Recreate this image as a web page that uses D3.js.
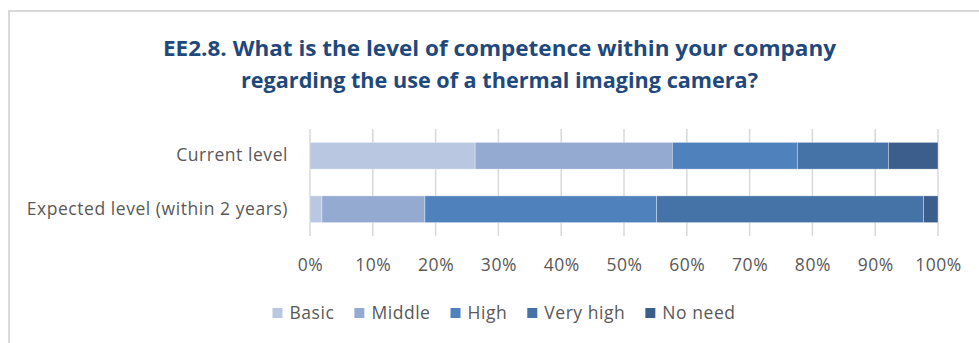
<!DOCTYPE html>
<html><head><meta charset="utf-8">
<script src="https://cdn.jsdelivr.net/npm/d3@7"></script>
<style>
html,body{margin:0;padding:0;background:#fff;}
svg{display:block;}
</style></head>
<body>
<script>
const categories = ["Current level", "Expected level (within 2 years)"];
const seriesNames = ["Basic", "Middle", "High", "Very high", "No need"];
const basic    = [26.3, 1.9];
const middle   = [31.4, 16.4];
const high     = [19.9, 36.9];
const veryHigh = [14.5, 42.5];
const noNeed   = [7.9, 2.3];
const tickValues = [0, 10, 20, 30, 40, 50, 60, 70, 80, 90, 100];
const colors = ["#BAC7E0", "#95AAD1", "#4F81BD", "#4572A7", "#3B5E8C"];
const titleLines = ["EE2.8. What is the level of competence within your company",
                    "regarding the use of a thermal imaging camera?"];

const W = 979, H = 343;
const svg = d3.select("body").append("svg").attr("width", W).attr("height", H);
const font = "'Open Sans', 'Liberation Sans', sans-serif";
const fs = 17.5, ls = 0.55;

// frame
svg.append("path").attr("d", `M9,${H} V11 H${W}`).attr("fill","none")
  .attr("stroke","#d9d9d9").attr("stroke-width",2);

// title
const titleWidths = [673, 517];
titleLines.forEach((t,i)=>{
  svg.append("text").attr("x", 499.5).attr("y", 56 + i*32)
    .attr("text-anchor","middle").attr("font-family", font).attr("font-weight","bold")
    .attr("font-size", 21.5).attr("fill","#1F497D")
    .attr("textLength", titleWidths[i]).attr("lengthAdjust","spacingAndGlyphs")
    .text(t);
});

const x = d3.scaleLinear().domain([0,100]).range([310, 938]);
const y = d3.scaleBand().domain(categories).range([129, 236]).paddingInner(0.5).paddingOuter(0.25);

// gridlines
svg.append("g").selectAll("line").data(tickValues).join("line")
  .attr("x1", d=>x(d)).attr("x2", d=>x(d)).attr("y1", 129).attr("y2", 236)
  .attr("stroke","#d9d9d9").attr("stroke-width",1.5);

// stacked data
const rows = categories.map((c,i)=>({cat:c, "Basic":basic[i], "Middle":middle[i], "High":high[i], "Very high":veryHigh[i], "No need":noNeed[i]}));
const stacked = d3.stack().keys(seriesNames)(rows);

svg.append("g").selectAll("g").data(stacked).join("g")
  .attr("fill",(d,i)=>colors[i])
  .selectAll("rect").data(d=>d).join("rect")
  .attr("x", d=>x(d[0])).attr("width", d=>x(d[1])-x(d[0]))
  .attr("y", d=>y(d.data.cat)).attr("height", y.bandwidth())
  .attr("stroke","rgba(255,255,255,0.45)").attr("stroke-width",0.75);

// x axis labels
const xAxis = d3.axisBottom(x).tickValues(tickValues).tickFormat(d=>d+"%").tickSize(0).tickPadding(0);
const gx = svg.append("g").attr("transform","translate(0,259)").call(xAxis);
gx.select(".domain").remove();
gx.selectAll("text").attr("font-family", font).attr("font-size",fs).attr("letter-spacing",ls).attr("fill","#595959");

// y axis labels
const yAxis = d3.axisLeft(y).tickSize(0).tickPadding(0);
const gy = svg.append("g").attr("transform","translate(288,0)").call(yAxis);
gy.select(".domain").remove();
gy.selectAll("text").attr("font-family", font).attr("font-size",fs).attr("letter-spacing",ls).attr("fill","#595959");

// legend
const lg = svg.append("g");
const items = lg.selectAll("g").data(seriesNames).join("g");
items.append("rect").attr("width",10).attr("height",10).attr("y",-5).attr("fill",(d,i)=>colors[i]);
items.append("text").attr("x",17).attr("dy","0.35em").attr("font-family",font)
  .attr("font-size",fs).attr("letter-spacing",ls).attr("fill","#595959").text(d=>d);
let cx = 0;
items.each(function(){
  const g = d3.select(this);
  g.attr("transform",`translate(${cx},0)`);
  cx += 17 + g.select("text").node().getComputedTextLength() + 20;
});
const total = cx - 20;
lg.attr("transform",`translate(${504 - total/2},313)`);
</script>
</body></html>
